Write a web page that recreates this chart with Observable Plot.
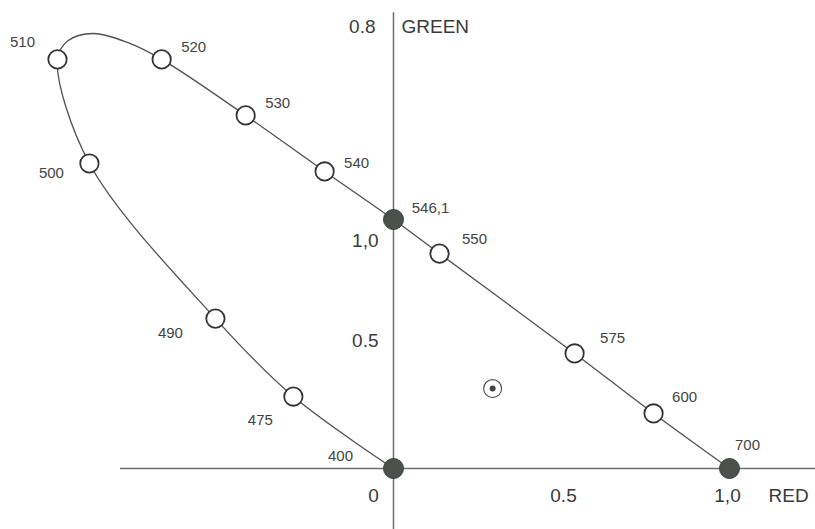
<!DOCTYPE html>
<html>
<head>
<meta charset="utf-8">
<script src="https://cdn.jsdelivr.net/npm/d3@7"></script>
<script src="https://cdn.jsdelivr.net/npm/@observablehq/plot@0.6"></script>
<style>
  html, body { margin: 0; padding: 0; background: white; }
</style>
</head>
<body>
<div id="chart"></div>
<script>
// Spectral locus sample points (wavelength labels, r and g chromaticity coordinates)
const waves = ["400", "475", "490", "500", "510", "520", "530", "540", "546,1", "550", "575", "600", "700"];
const rVals = [0, -0.298, -0.530, -0.905, -1.0, -0.690, -0.440, -0.205, 0, 0.137, 0.539, 0.774, 1.0];
const gVals = [0, 0.289, 0.602, 1.225, 1.643, 1.643, 1.418, 1.193, 1.0, 0.863, 0.462, 0.221, 0];
const isPrimary = [true, false, false, false, false, false, false, false, true, false, false, false, true];

// Extra unlabelled locus points over the top bend between 510 and 520
const bendR = [-0.970, -0.893, -0.792];
const bendG = [1.717, 1.747, 1.711];

// Label offsets (pixels) relative to each marker
const labelDx = [-53, -33, -45, -38, -35, 32, 32, 32, 37, 35, 38, 31, 18];
const labelDy = [-12, 24, 15, 10, -17, -12, -12, -8, -11, -14, -15, -16, -23];

// White point
const whiteR = [0.295];
const whiteG = [0.321];

// Axis tick labels
const xTickVals = [0, 0.5, 1];
const xTickText = ["0", "0.5", "1,0"];
const xTickDx = [-20, 2, -2];
const yTickVals = [0.5, 1];
const yTickText = ["0.5", "1,0"];
const yTickDy = [-3, 21];
const topLabel = "0.8";
const xTitle = "RED";
const yTitle = "GREEN";

const pts = waves.map((w, i) => ({w, r: rVals[i], g: gVals[i], primary: isPrimary[i]}));
const bend = bendR.map((r, i) => ({r, g: bendG[i]}));
const locus = [...pts.slice(0, 5), ...bend, ...pts.slice(5)];
const white = whiteR.map((r, i) => ({r, g: whiteG[i]}));

const font = "'Liberation Sans', Arial, Helvetica, sans-serif";
const ink = "#3a3a3a";

const chart = Plot.plot({
  width: 815,
  height: 529,
  margin: 0,
  x: {domain: [-393 / 336, 422 / 336], axis: null},
  y: {domain: [-61 / 249, 468 / 249], axis: null},
  style: {background: "white", fontFamily: font},
  marks: [
    Plot.ruleY([0], {x1: -0.8125, x2: 1.26, stroke: "#6e6e6e", strokeWidth: 1.5}),
    Plot.ruleX([0], {y1: -0.25, y2: 1.83, stroke: "#6e6e6e", strokeWidth: 1.5}),
    Plot.line(locus, {x: "r", y: "g", curve: "catmull-rom", stroke: "#505050", strokeWidth: 1.3}),
    Plot.dot(pts.filter(d => !d.primary), {x: "r", y: "g", r: 9.2, fill: "white", stroke: "#333", strokeWidth: 1.8}),
    Plot.dot(pts.filter(d => d.primary), {x: "r", y: "g", r: 10, fill: "#4b524c", stroke: "#3a3f3b", strokeWidth: 1}),
    Plot.dot(white, {x: "r", y: "g", r: 9, fill: "none", stroke: "#555", strokeWidth: 1.2}),
    Plot.dot(white, {x: "r", y: "g", r: 3, fill: "#444", stroke: "none"}),
    ...pts.map((d, i) => Plot.text([d], {
      x: "r", y: "g", text: "w", dx: labelDx[i], dy: labelDy[i],
      fontSize: 15, fill: "#444"
    })),
    ...xTickVals.map((v, i) => Plot.text([xTickText[i]], {
      x: () => v, y: () => 0, text: d => d, dx: xTickDx[i], dy: 27,
      fontSize: 19, fill: ink
    })),
    Plot.text([xTitle], {x: () => 1, y: () => 0, text: d => d, dx: 39, dy: 27, textAnchor: "start", fontSize: 19, fill: ink}),
    ...yTickVals.map((v, i) => Plot.text([yTickText[i]], {
      x: () => 0, y: () => v, text: d => d, dx: -15, dy: yTickDy[i], textAnchor: "end",
      fontSize: 19, fill: ink
    })),
    Plot.text([topLabel], {x: () => 0, frameAnchor: "top", lineAnchor: "middle", text: d => d, dx: -18, dy: 26, textAnchor: "end", fontSize: 19, fill: ink}),
    Plot.text([yTitle], {x: () => 0, frameAnchor: "top", lineAnchor: "middle", text: d => d, dx: 8, dy: 26, textAnchor: "start", fontSize: 19, fill: ink})
  ]
});
document.getElementById("chart").appendChild(chart);
</script>
</body>
</html>
